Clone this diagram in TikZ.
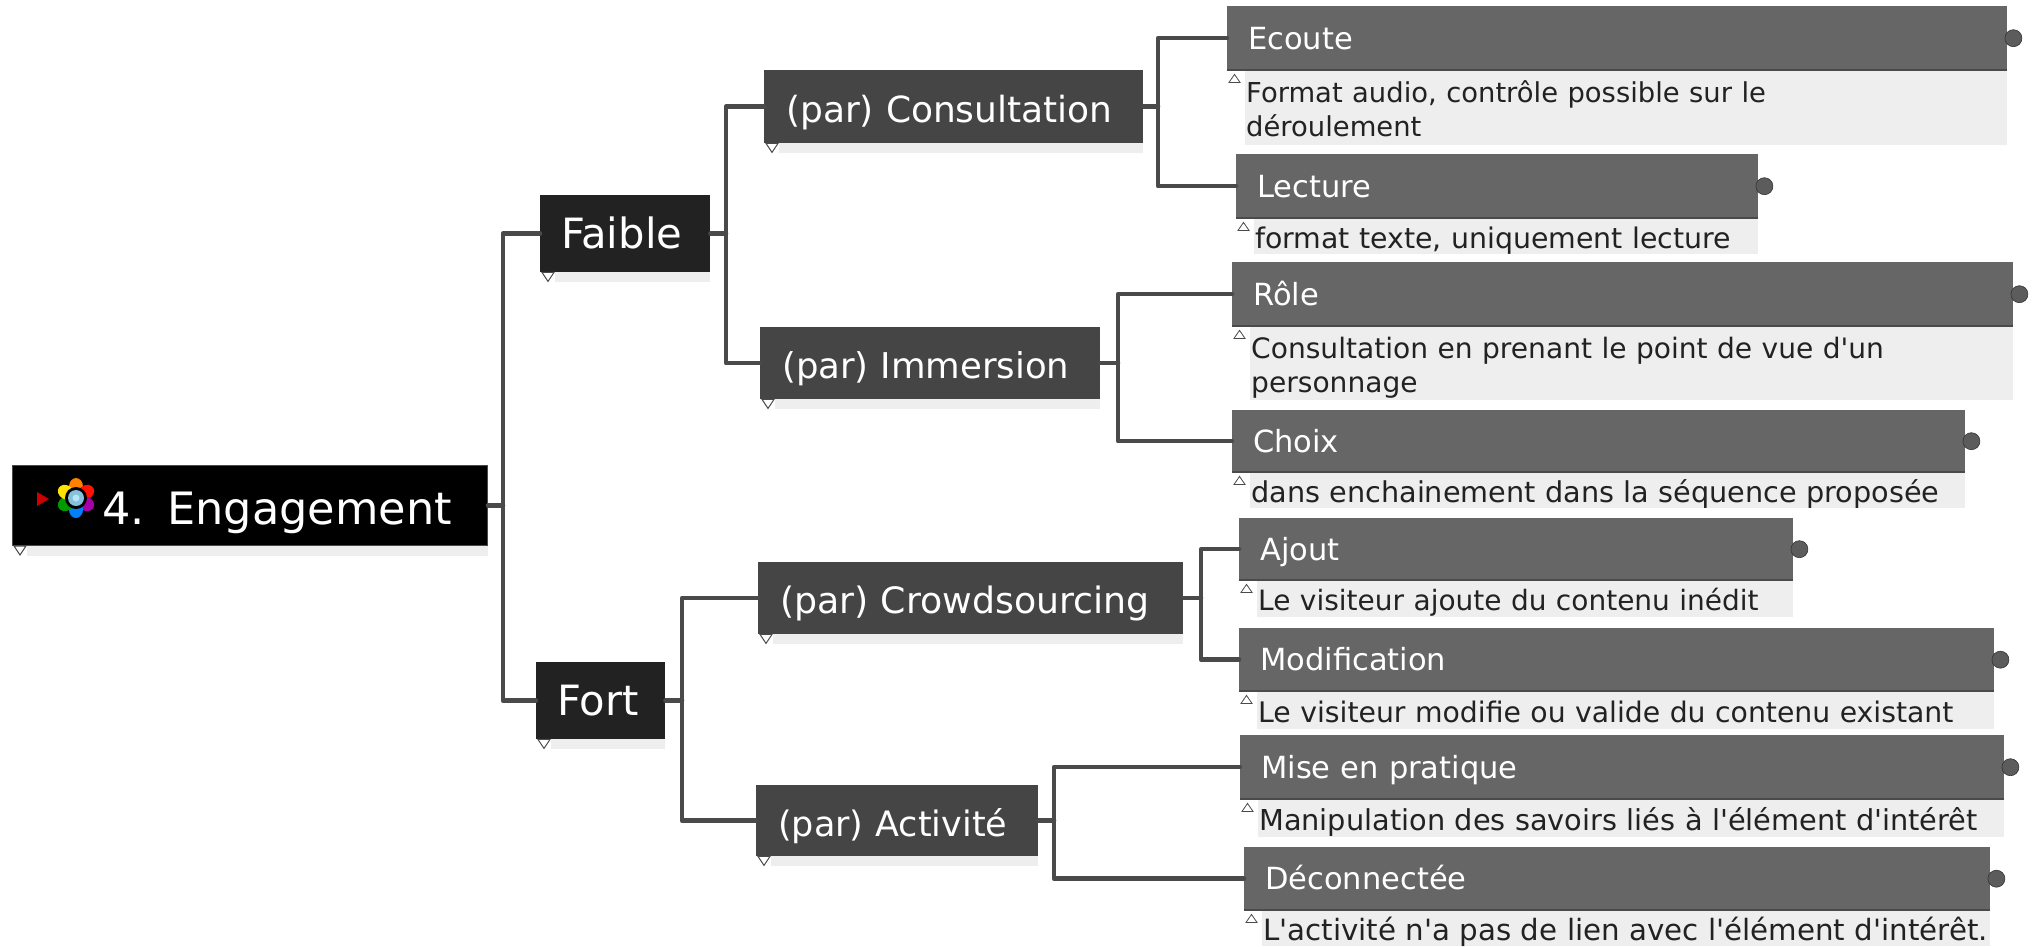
\documentclass[tikz,border=0pt]{standalone}
\usepackage{fontspec}
\newfontfamily\uifont{DejaVu Sans}
\newcommand{\fz}[2]{\uifont\fontsize{#1}{#2}\selectfont}
\newcommand{\nt}{\rule{0pt}{29pt}}
\newcommand{\nd}{\rule[-6pt]{0pt}{6pt}}
\newcommand{\ns}[1]{\fontsize{#1}{34}\selectfont}
\definecolor{rootc}{HTML}{000000}
\definecolor{lvla}{HTML}{222222}
\definecolor{lvlb}{HTML}{454545}
\definecolor{lvlc}{HTML}{666666}
\definecolor{notec}{HTML}{EEEEEE}
\definecolor{conn}{HTML}{4A4A4A}
\tikzset{
  x=1pt,y=-1pt,
  box/.style={anchor=north west,inner ysep=0pt,align=left,text=white,text depth=0pt},
  rootbox/.style={box,fill=rootc,draw=conn,line width=1pt,font=\fz{44.6}{45},text height=37pt},
  abox/.style={box,fill=lvla,font=\fz{41.7}{42},text height=30.5pt},
  bbox/.style={box,fill=lvlb,font=\fz{36}{36},text height=31pt},
  cbox/.style={box,fill=lvlc,font=\fz{30.5}{31},text height=22pt},
  notebox/.style={anchor=north west,fill=notec,inner ysep=0pt,align=left,text=lvla,font=\fz{28.3}{34}},
  link/.style={draw=conn,line width=4.5pt,line cap=round,line join=round},
  shade/.style={fill=notec},
  tri/.style={draw=conn,fill=white,line width=1pt,line join=miter},
  knob/.style={circle,fill=conn!90!white,draw=conn!70!black,line width=.6pt,minimum size=17pt,inner sep=0pt},
}
% \bx{name}{style}{x1}{y1}{x2}{y2}{pad}{text}
\newcommand{\bx}[8]{%
  \node (#1) [#2,inner xsep=#7pt,text width={(#5-#3-2*#7)*1pt},minimum height={(#6-#4)*1pt}] at (#3,#4) {#8};}
\newcommand{\topbox}[8]{%
  \bx{#1}{#2}{#3}{#4}{#5}{#6}{#7}{#8}
  \fill[shade] ([xshift=15pt]#1.south west) rectangle ([yshift=-10pt]#1.south east);
  \draw[tri] ([xshift=2pt]#1.south west) -- ++(12,0) -- ++(-6,9) -- cycle;}
% \leaf{name}{x1}{y1}{x2}{y2}{text}
\newcommand{\leaf}[6]{%
  \bx{#1}{cbox}{#2}{#3}{#4}{#5}{21}{#6}
  \draw[conn,line width=2pt] (#1.south west) -- (#1.south east);
  \node[knob] (#1k) at ([xshift=6pt]#1.east) {};
}
% \note{name}{x1}{y1}{x2}{y2}{text}
\newcommand{\note}[6]{%
  \bx{#1}{notebox}{#2}{#3}{#4}{#5}{1}{#6}
}
\begin{document}
\begin{tikzpicture}
\useasboundingbox (0,0) rectangle (2034,946);
% junction coordinates
\coordinate (j0) at (503,505);
\coordinate (j1) at (726,235);
\coordinate (j2) at (682,700);
\coordinate (j3) at (1158,106);
\coordinate (j4) at (1118,363);
\coordinate (j5) at (1201,598);
\coordinate (j6) at (1054,820);
\topbox{root}{rootbox}{12}{465}{487}{545}{15}{\hspace{75pt}4. Engagement}
\topbox{faible}{abox}{540}{195}{710}{272}{21}{Faible}
\topbox{fort}{abox}{536}{662}{665}{739}{21}{Fort}
\topbox{cons}{bbox}{764}{70}{1143}{143}{22}{(par) Consultation}
\topbox{imm}{bbox}{760}{327}{1100}{399}{22}{\ns{35.5}(par) Immersion}
\topbox{crowd}{bbox}{758}{562}{1183}{634}{22}{\ns{36.3}(par) Crowdsourcing}
\topbox{act}{bbox}{756}{785}{1038}{856}{22}{\ns{35}(par) Activité}

\leaf{ecoute}{1227}{6}{2007}{70}{Ecoute}
\leaf{lecture}{1236}{154}{1758}{218}{Lecture}
\leaf{role}{1232}{262}{2013}{326}{Rôle}
\leaf{choix}{1232}{410}{1965}{472}{Choix}
\leaf{ajout}{1239}{518}{1793}{580}{Ajout}
\leaf{modif}{1239}{628}{1994}{691}{Modification}
\leaf{mise}{1240}{735}{2004}{799}{Mise en pratique}
\leaf{decon}{1244}{847}{1990}{910}{Déconnectée}

\note{necoute}{1245}{71}{2007}{145}{\ns{27.4}\nt Format audio, contrôle possible sur le\\\nd déroulement}
\note{nlecture}{1254}{219}{1758}{254}{\ns{28.4}\nt\nd format texte, uniquement lecture}
\note{nrole}{1250}{327}{2013}{400}{\ns{28.1}\nt Consultation en prenant le point de vue d'un\\\nd personnage}
\note{nchoix}{1250}{473}{1965}{508}{\ns{28.7}\nt\nd dans enchainement dans la séquence proposée}
\note{najout}{1257}{581}{1793}{617}{\ns{28}\nt\nd Le visiteur ajoute du contenu inédit}
\note{nmodif}{1257}{692}{1994}{729}{\ns{28.3}\nt\nd Le visiteur modifie ou valide du contenu existant}
\note{nmise}{1258}{800}{2004}{837}{\ns{28.8}\nt\nd Manipulation des savoirs liés à l'élément d'intérêt}
\note{ndecon}{1262}{911}{1990}{946}{\ns{29.3}\nt\nd L'activité n'a pas de lien avec l'élément d'intérêt.}

\foreach \n in {ecoute,lecture,role,choix,ajout,modif,mise,decon}{
  \draw[tri,line width=.8pt] ([xshift=2pt,yshift=-12pt]\n.south west) -- ++(11,0) -- ++(-5.5,-8) -- cycle;
}

% connectors
\draw[link] (root.east) -- (j0 |- root.east);
\draw[link] (faible.west) -| (j0) |- (fort.west);
\draw[link] (faible.east) -- (j1 |- faible.east);
\draw[link] (cons.west) -| (j1) |- (imm.west);
\draw[link] (fort.east) -- (j2 |- fort.east);
\draw[link] (crowd.west) -| (j2) |- (act.west);
\draw[link] (cons.east) -- (j3 |- cons.east);
\draw[link] (ecoute.west) -| (j3) |- (lecture.west);
\draw[link] (imm.east) -- (j4 |- imm.east);
\draw[link] (role.west) -| (j4) |- (choix.west);
\draw[link] (crowd.east) -- (j5 |- crowd.east);
\draw[link] (ajout.west) -| (j5) |- (modif.west);
\draw[link] (act.east) -- (j6 |- act.east);
\draw[link] (mise.west) -| (j6) |- (decon.west);

% root icon
\fill[red!80!black] (37,492) -- (49,499) -- (37,506) -- cycle;
\begin{scope}[shift={(76,498)}]
  \foreach \a/\c in {90/orange,30/red!85!orange,-30/violet!70!magenta,-90/blue!50!cyan,210/green!60!black,150/yellow!85!orange}{
    \fill[\c,rotate=\a] (11.5,0) ellipse (8.5 and 7);
  }
  \fill[black] (0,0) circle (11);
  \fill[lightgray!60!cyan] (0,0) circle (8);
  \fill[white!70!cyan] (0,0) circle (3.5);
\end{scope}
\end{tikzpicture}
\end{document}
